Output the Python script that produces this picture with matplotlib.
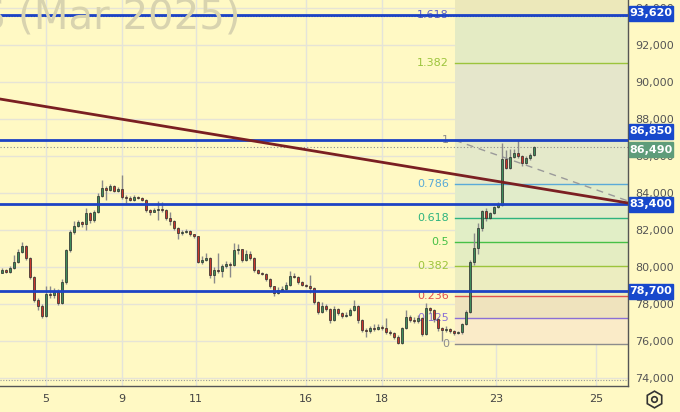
import numpy as np
import matplotlib.pyplot as plt
from matplotlib.patches import Rectangle
from matplotlib.lines import Line2D

# hourly candles
closes = [79840, 79730, 79950, 80270, 80810, 81140, 80490, 79460, 78220, 77890,
          77350, 78540, 78490, 78650, 78060, 79190, 80920, 81890, 82220, 82430,
          82330, 82920, 82540, 82970, 83840, 84270, 84160, 84380, 84110, 84220,
          83780, 83730, 83620, 83780, 83730, 83620, 83080, 82970, 83080, 83140,
          83080, 82650, 82490, 82110, 81840, 81890, 81950, 81780, 81680, 80270,
          80380, 80490, 79570, 79840, 79790, 80060, 80160, 80110, 80920, 80970,
          80380, 80700, 80490, 79840, 79680, 79620, 79350, 78970, 78600, 78760,
          78810, 79030, 79510, 79460, 79190, 79030, 78970, 78870, 78110, 77570,
          77890, 77730, 77140, 77730, 77510, 77350, 77410, 77680, 77890, 77140,
          76600, 76540, 76700, 76650, 76760, 76700, 76490, 76430, 76220, 75890,
          76700, 77300, 77140, 77080, 77240, 76380, 77790, 77680, 77190, 76700,
          76600, 76650, 76540, 76430, 76490, 76920, 77570, 80270, 81030, 82110,
          83030, 82650, 82920, 83240, 83350, 85840, 85350, 85950, 86160, 86000,
          85620, 85890, 86050, 86490]
highs = [79950, 79900, 80050, 80650, 81000, 81350, 81200, 80550, 79500, 78300,
         78000, 79000, 79000, 78850, 78800, 79350, 81000, 82000, 82500, 82550,
         82500, 83200, 83000, 83100, 84000, 84700, 84400, 84500, 84450, 84350,
         84970, 83900, 83850, 83900, 83850, 83800, 83700, 83150, 83200, 83550,
         83500, 83150, 83000, 82550, 82150, 82000, 82050, 82000, 81800, 81700,
         80600, 80760, 80550, 80000, 80750, 80150, 80300, 80250, 81300, 81250,
         81000, 80900, 80850, 80550, 79900, 79750, 79700, 79400, 79000, 78900,
         78950, 79200, 79780, 79650, 79500, 79250, 79100, 79570, 78900, 78150,
         78110, 78000, 77800, 77900, 77800, 77550, 77550, 77800, 78220, 77950,
         77200, 76700, 76800, 76900, 76900, 76850, 77250, 76600, 76500, 76300,
         76760, 77680, 77400, 77300, 77400, 77300, 78060, 77850, 77750, 77250,
         76750, 76800, 76700, 76600, 76550, 77000, 77700, 80400, 81850, 82400,
         83100, 83200, 83000, 83300, 83500, 86700, 86300, 86400, 86400, 86850,
         86050, 86000, 86150, 86550]
lows = [79650, 79650, 79700, 79900, 80200, 80750, 80400, 79350, 78100, 77650,
        77250, 77300, 78300, 78300, 77950, 78000, 79100, 80800, 81800, 82150,
        82150, 82000, 82400, 82450, 82900, 83800, 83600, 84100, 84050, 84050,
        83700, 83450, 83550, 83550, 83650, 83550, 82950, 82810, 82950, 82540,
        83000, 82550, 82270, 82000, 81500, 81750, 81850, 81700, 81550, 80200,
        80150, 80300, 79400, 79150, 79700, 79460, 79950, 79450, 80050, 80700,
        80250, 80300, 80400, 79750, 79600, 79550, 79250, 78850, 78450, 78550,
        78700, 78750, 79000, 79400, 79100, 78950, 78900, 78600, 78000, 77450,
        77500, 77600, 76950, 77100, 77400, 77250, 77300, 77350, 77600, 77000,
        76500, 76220, 76450, 76550, 76600, 76600, 76400, 76300, 76100, 75850,
        75850, 76650, 77050, 76950, 77000, 76250, 76300, 77500, 77050, 76550,
        76000, 76500, 76450, 76350, 76380, 76400, 76850, 77500, 80100, 80700,
        81950, 82500, 82600, 82850, 83200, 83300, 85300, 85300, 85900, 85900,
        85450, 85550, 85800, 86000]
first_open = 79700

date_pos = [11, 30, 48.5, 76, 95, 123.5, 148.5]
date_labels = ['5', '9', '11', '16', '18', '23', '25']

levels = [93620, 86850, 83400, 78700]
last_price = 86490

fib_low, fib_high = 75850, 86850
fib_ratios = [0, 0.125, 0.236, 0.382, 0.5, 0.618, 0.786, 1, 1.382, 1.618, 2.618]
fib_labels = ['0', '0.125', '0.236', '0.382', '0.5', '0.618', '0.786', '1', '1.382', '1.618']
fib_colors = ['#8c8c8c', '#8a6fd6', '#e2504f', '#9cc43c', '#46c046', '#2db37e',
              '#5aaad8', '#8c8c8c', '#9cc43c', '#5b5fc7']
band_colors = ['#faebc8', '#efe3bd', '#ecedc0', '#e4edc2', '#e1eec6', '#e1ecca',
               '#e4e9ca', '#e5e6cb', '#e4ebc4', '#ece8ba']

trend_x, trend_y = [-0.5, 156.5], [89080, 83460]
diag_x, diag_y = [113.25, 156.5], [86850, 83570]

bg = '#fff9c4'
fig = plt.figure(figsize=(6.8, 4.12), dpi=100, facecolor=bg)
ax = fig.add_axes([0, 26 / 412, 628 / 680, 386 / 412], facecolor=bg)
ax.set_xlim(-0.5, 156.5)
ax.set_ylim(73568, 94432)
per_px = (94432 - 73568) / 386

# watermark
fig.text(240 / 680, 1 - 17 / 412, 'RTS (Mar 2025)', ha='right', va='center',
         fontsize=29, color='#d8d3af', zorder=0)

# grid
for p in range(74000, 94001, 2000):
    ax.axhline(p, color='#e6e4d6', lw=1, zorder=0.2)
for d in date_pos:
    ax.axvline(d, color='#e4e4da', lw=1, zorder=0.2)

# fib bands and levels
fx = [113.25, 156.5]
prices = [fib_low + r * (fib_high - fib_low) for r in fib_ratios]
for i in range(len(band_colors)):
    ax.fill_between(fx, prices[i], prices[i + 1], color=band_colors[i], lw=0, zorder=0.5)
for i, lab in enumerate(fib_labels):
    ax.plot(fx, [prices[i]] * 2, color=fib_colors[i], lw=1, zorder=1)
    ax.text(111.75, prices[i], lab, ha='right', va='center', fontsize=8,
            color=fib_colors[i], zorder=1)
ax.plot(diag_x, diag_y, color='#9a9a9a', lw=1, ls=(0, (5, 4)), zorder=2)

# dotted lines
ax.axhline(last_price, color='#8c8c8c', lw=0.8, ls=(0, (1, 2)), zorder=2)
ax.axhline(93560, color='#1d43c4', lw=0.8, ls=(0, (1, 1.5)), zorder=2)
ax.axhline(73900, color='#9a9a9a', lw=0.8, ls=(0, (1, 1.5)), zorder=2)

# candles
opens = [first_open] + closes[:-1]
x = np.arange(len(closes))
up = np.array(closes) >= np.array(opens)
ax.vlines(x, lows, highs, color='#8a8a8a', lw=1, zorder=3)
body_lo = np.minimum(opens, closes)
body_h = np.maximum(np.abs(np.array(closes) - np.array(opens)), 40)
ax.bar(x, body_h, bottom=body_lo, width=0.72,
       color=np.where(up, '#3f8c5c', '#c8372d'), edgecolor='#2a2a2a', lw=0.5, zorder=3.5)

# horizontal levels and trend line
for lv in levels:
    ax.axhline(lv, color='#1d43c4', lw=2, zorder=4)
ax.plot(trend_x, trend_y, color='#7a1f22', lw=2, zorder=4)

# price axis
ax.yaxis.tick_right()
ax.set_yticks(range(74000, 94001, 2000))
ax.set_yticklabels([f'{p:,}' for p in range(74000, 94001, 2000)], fontsize=8, color='#555555')
ax.tick_params(axis='y', length=0, pad=5)
ax.set_xticks(date_pos)
ax.set_xticklabels(date_labels, fontsize=8, color='#444444')
ax.tick_params(axis='x', length=0, pad=6)
for s in ['top', 'left']:
    ax.spines[s].set_visible(False)
for s in ['right', 'bottom']:
    ax.spines[s].set_color('#555555')
    ax.spines[s].set_linewidth(1)

# price labels on the axis (shift in pixels where they would collide)
tr = ax.get_yaxis_transform()
for lv, col, shift in [(93620, '#1848cc', 2), (86850, '#1848cc', 9), (83400, '#1848cc', 0),
                       (78700, '#1848cc', 0), (last_price, '#5e9c7a', -3)]:
    yc = lv + shift * per_px
    ax.add_patch(Rectangle((1.002, yc - 7.5 * per_px), 44 / 628, 15 * per_px, transform=tr,
                           color=col, clip_on=False, zorder=6))
    ax.text(1 + 23 / 628, yc, f'{lv:,}', transform=tr, ha='center', va='center',
            fontsize=8, fontweight='bold', color='white', zorder=7, clip_on=False)

# settings icon
fig.add_artist(Line2D([654 / 680], [1 - 399 / 412], marker='h', ms=12, mfc='none',
                      mec='#333333', mew=1.2, transform=fig.transFigure))
fig.add_artist(Line2D([654 / 680], [1 - 399 / 412], marker='o', ms=4, mfc='none',
                      mec='#333333', mew=1.2, transform=fig.transFigure))

fig.savefig('out.png', dpi=100, facecolor=bg)
